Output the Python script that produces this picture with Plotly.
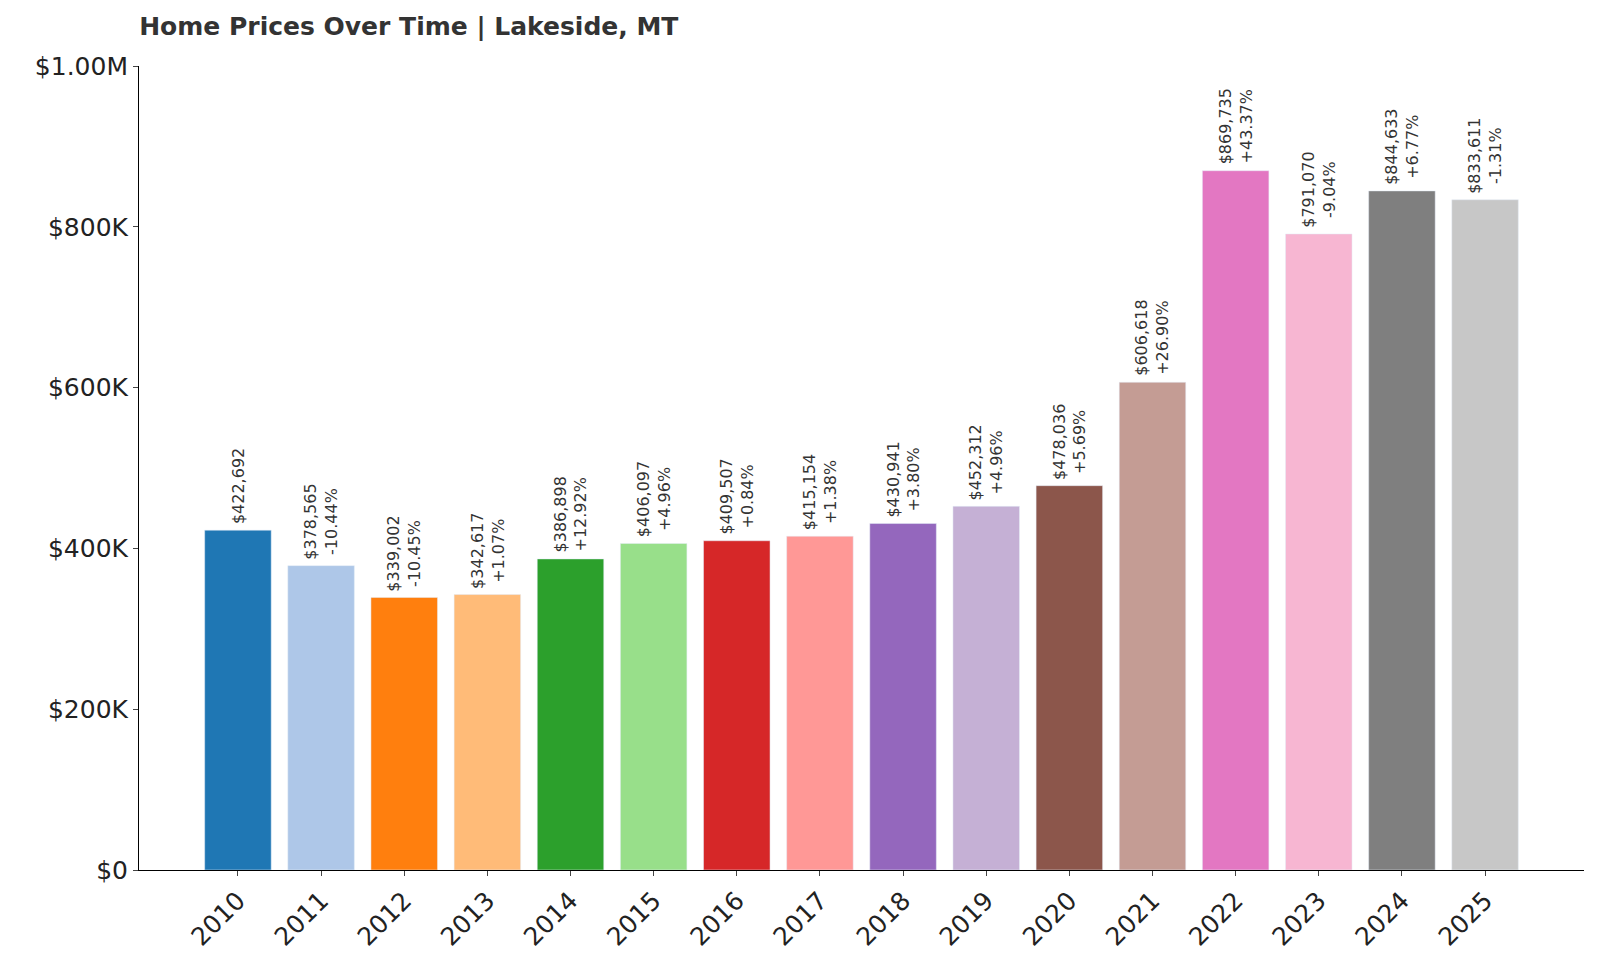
import plotly.graph_objects as go

years = [str(y) for y in range(2010, 2026)]
prices = [422692, 378565, 339002, 342617, 386898, 406097, 409507, 415154,
          430941, 452312, 478036, 606618, 869735, 791070, 844633, 833611]
changes = [None, "-10.44%", "-10.45%", "+1.07%", "+12.92%", "+4.96%", "+0.84%", "+1.38%",
           "+3.80%", "+4.96%", "+5.69%", "+26.90%", "+43.37%", "-9.04%", "+6.77%", "-1.31%"]
colors = ["#1f77b4", "#aec7e8", "#ff7f0e", "#ffbb78", "#2ca02c", "#98df8a", "#d62728", "#ff9896",
          "#9467bd", "#c5b0d5", "#8c564b", "#c49c94", "#e377c2", "#f7b6d2", "#7f7f7f", "#c7c7c7"]
yticks = [0, 200000, 400000, 600000, 800000, 1000000]
ytick_text = ["$0", "$200K", "$400K", "$600K", "$800K", "$1.00M"]

xs = list(range(len(years)))
fig = go.Figure(go.Bar(x=xs, y=prices, marker_color=colors, width=0.8))

for x, p, c in zip(xs, prices, changes):
    txt = "${:,}".format(p) if c is None else "${:,}<br>{}".format(p, c)
    fig.add_annotation(x=x, y=p, text=txt, textangle=-90, showarrow=False,
                       yanchor="bottom", yshift=4, font=dict(size=16, color="#333"))

fig.update_layout(
    width=1600, height=960, plot_bgcolor="white", paper_bgcolor="white",
    margin=dict(l=131, r=24, t=58, b=98),
    font=dict(family="DejaVu Sans", color="#222"),
    title=dict(text="<b>Home Prices Over Time | Lakeside, MT</b>", x=0.082, xanchor="left",
               y=0.99, yanchor="top", font=dict(size=25, color="#333")),
    xaxis=dict(range=[-1.19, 16.19], tickvals=xs, ticktext=years, tickangle=-45,
               tickfont=dict(size=25), showline=True, linecolor="black", ticks="outside",
               showgrid=False),
    yaxis=dict(range=[0, 1000000], tickvals=yticks, ticktext=ytick_text, tickfont=dict(size=25),
               showline=True, linecolor="black", ticks="outside", showgrid=False, zeroline=False),
    showlegend=False,
)
fig.write_html("out.html")
